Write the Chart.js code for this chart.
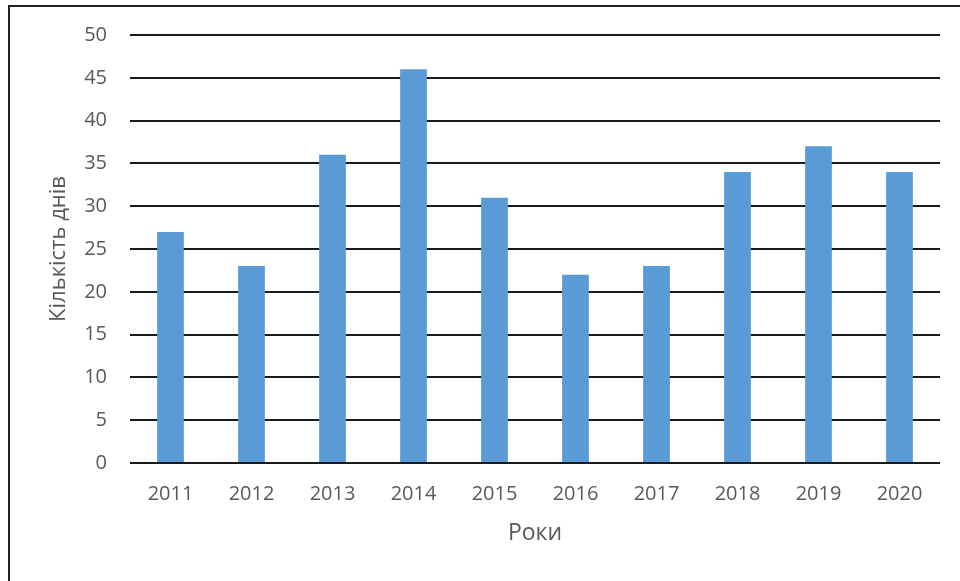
<!DOCTYPE html>
<html><head><meta charset="utf-8">
<script src="https://cdn.jsdelivr.net/npm/chart.js@4/dist/chart.umd.min.js"></script>
<style>
html,body{margin:0;padding:0;background:#fff;overflow:hidden}
#wrap{position:relative;width:960px;height:581px}
#frame{position:absolute;left:8px;top:5px;width:1000px;height:1000px;border-left:2px solid #222;border-top:2px solid #222;pointer-events:none}
canvas{position:absolute;left:0;top:0}
</style></head>
<body>
<div id="wrap"><canvas id="c" width="960" height="581"></canvas><div id="frame"></div></div>
<script>
const years = ['2011','2012','2013','2014','2015','2016','2017','2018','2019','2020'];
const days = [27, 23, 36, 46, 31, 22, 23, 34, 37, 34];
const yTitle = 'Кількість днів';
const xTitle = 'Роки';
const txt = '#595959';
const fam = '"Open Sans", "DejaVu Sans", sans-serif';

new Chart(document.getElementById('c'), {
  type: 'bar',
  data: { labels: years, datasets: [{ data: days, backgroundColor: '#5b9bd5', borderWidth: 0, barPercentage: 0.33, categoryPercentage: 1 }] },
  options: {
    responsive: false, animation: false,
    layout: { padding: { left: 0, top: 35, right: 20, bottom: 0 } },
    plugins: { legend: { display: false }, tooltip: { enabled: false } },
    scales: {
      x: {
        grid: { display: false, drawTicks: false },
        border: { display: false },
        ticks: { color: txt, font: { family: fam, size: 20 }, padding: 19, maxRotation: 0 },
        title: { display: true, text: xTitle, color: txt, font: { family: fam, size: 23 }, padding: { top: 0, bottom: 34 } },
        afterFit: s => { s.height = 118; }
      },
      y: {
        min: 0, max: 50,
        grid: { color: '#1a1a1a', lineWidth: 2, drawTicks: false },
        border: { display: false },
        ticks: { stepSize: 5, color: txt, font: { family: fam, size: 20 }, padding: 23 },
        title: { display: true, text: yTitle, color: txt, font: { family: fam, size: 22 }, padding: { top: 46, bottom: 0 } },
        afterFit: s => { s.width = 130; }
      }
    }
  }
});
</script>
</body></html>
